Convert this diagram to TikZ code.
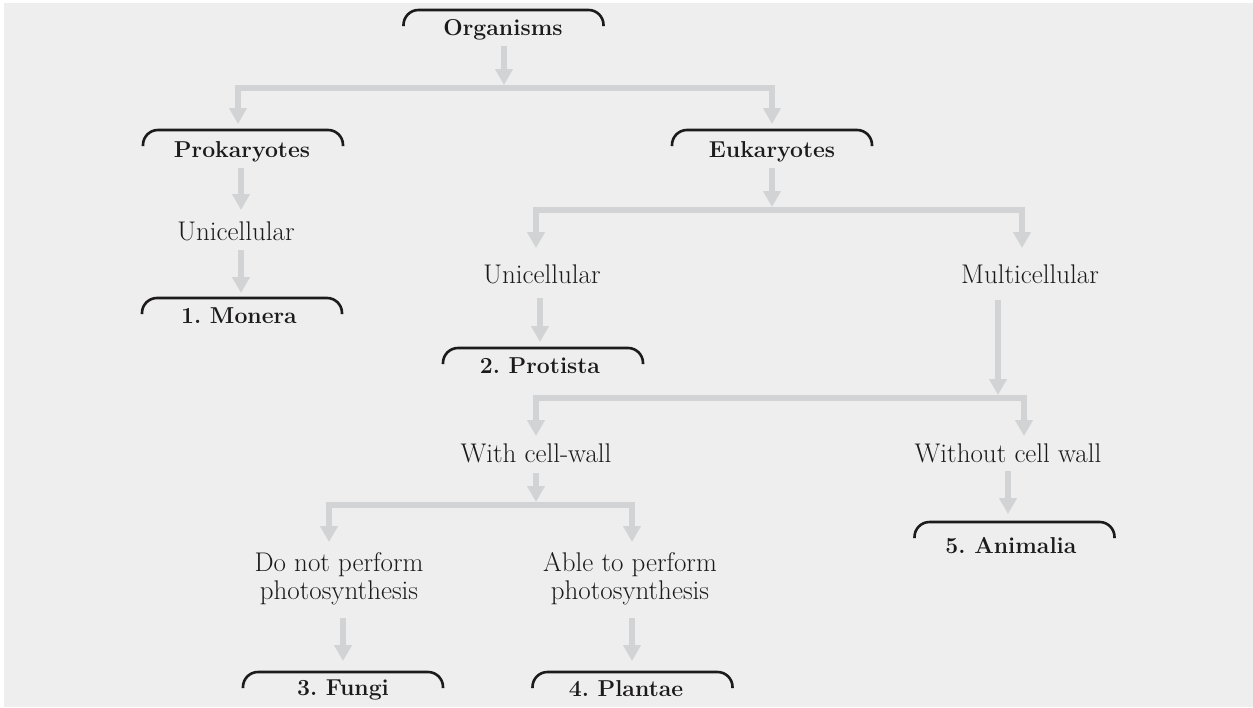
\documentclass[tikz,border=0pt]{standalone}
\usetikzlibrary{arrows.meta}
\definecolor{bgc}{HTML}{EEEEEE}
\definecolor{arrc}{HTML}{D1D3D4}
\definecolor{ink}{HTML}{1C1A1B}
\frenchspacing
\begin{document}
\begin{tikzpicture}[x=1pt,y=-1pt,
  tip/.tip={Triangle[width=17pt,length=16pt]},
  conn/.style={draw=arrc, line width=6.5pt, line join=miter, -tip},
  split/.style={draw=arrc, line width=6.5pt, line join=miter, tip-tip},
  lbl/.style={font=\fontsize{27}{28}\selectfont, text=ink, inner sep=0pt, align=center},
  blbl/.style={font=\fontsize{23}{27}\selectfont\bfseries, text=ink, inner sep=0pt, anchor=base},
  brk/.style={draw=ink, line width=2.6pt, rounded corners=15pt},
  bracket/.pic={\draw[brk] (-100,16) -- (-100,0) -- (100,0) -- (100,16);}
]
\useasboundingbox (0,0) rectangle (1253,707);
\fill[bgc] (4,3) rectangle (1253,707);

% brackets
\pic at (503.5,10) {bracket};
\pic at (243,130) {bracket};
\pic at (772,130) {bracket};
\pic at (242,298) {bracket};
\pic at (543,348) {bracket};
\pic at (1014.5,522) {bracket};
\pic at (343,672) {bracket};
\pic at (632.5,672) {bracket};

% bold labels
\node[blbl] (org) at (503,35) {Organisms};
\node[blbl] (pro) at (242,157) {Prokaryotes};
\node[blbl] (euk) at (772,157) {Eukaryotes};
\node[blbl] (mon) at (239,323) {1. Monera};
\node[blbl] (prot) at (540,373) {2. Protista};
\node[blbl] (ani) at (1011,553) {5. Animalia};
\node[blbl] (fun) at (343,695) {3. Fungi};
\node[blbl] (pla) at (626,696) {4. Plantae};

% plain labels
\node[lbl, anchor=base] (uni1) at (236,240) {Unicellular};
\node[lbl, anchor=base] (uni2) at (542,283) {Unicellular};
\node[lbl, anchor=base] (mul) at (1030,283) {Multicellular};
\node[lbl, anchor=base] (wcw) at (536,462) {With cell-wall};
\node[lbl, anchor=base] (wocw) at (1008,462) {Without cell wall};
\node[lbl] (dnp) at (339,579) {Do not perform\\photosynthesis};
\node[lbl] (atp) at (630,579) {Able to perform\\photosynthesis};

% connector end points
\coordinate (a1) at (504,46);   \coordinate (j1) at (504,85);
\coordinate (s1l) at (238,124); \coordinate (s1r) at (772,124);
\coordinate (a2) at (241,168);  \coordinate (b2) at (241,210);
\coordinate (a3) at (241,250);  \coordinate (b3) at (241,293);
\coordinate (a4) at (772,168);  \coordinate (j2) at (772,207);
\coordinate (s2l) at (536,248); \coordinate (s2r) at (1022,248);
\coordinate (a5) at (540,298);  \coordinate (b5) at (540,342);
\coordinate (a6) at (998,300);  \coordinate (j3) at (998,395);
\coordinate (s3l) at (536,436); \coordinate (s3r) at (1024,436);
\coordinate (a7) at (536,473);  \coordinate (j4) at (536,502);
\coordinate (s4l) at (329,542); \coordinate (s4r) at (632,542);
\coordinate (a8) at (1008,471); \coordinate (b8) at (1008,514);
\coordinate (a9) at (343,618);  \coordinate (b9) at (343,661);
\coordinate (a10) at (632,618); \coordinate (b10) at (632,661);

% connectors
\draw[conn] (a1) -- (j1);
\draw[split] (s1l) -- (238,88) -- (772,88) -- (s1r);
\draw[conn] (a2) -- (b2);
\draw[conn] (a3) -- (b3);
\draw[conn] (a4) -- (j2);
\draw[split] (s2l) -- (536,210) -- (1022,210) -- (s2r);
\draw[conn] (a5) -- (b5);
\draw[conn] (a6) -- (j3);
\draw[split] (s3l) -- (536,398) -- (1024,398) -- (s3r);
\draw[conn] (a7) -- (j4);
\draw[split] (s4l) -- (329,505) -- (632,505) -- (s4r);
\draw[conn] (a8) -- (b8);
\draw[conn] (a9) -- (b9);
\draw[conn] (a10) -- (b10);
\end{tikzpicture}
\end{document}
